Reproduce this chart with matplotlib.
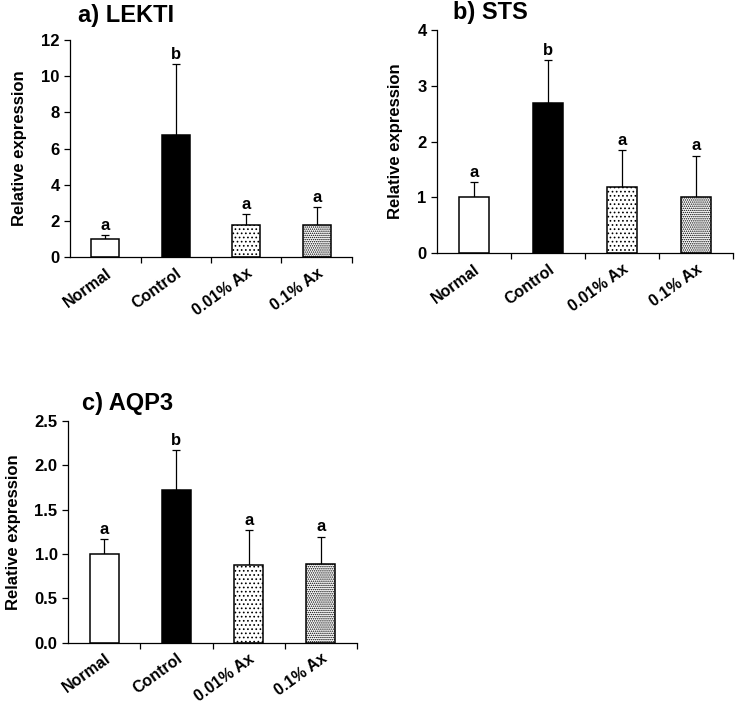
import matplotlib
matplotlib.use("Agg")
import matplotlib.pyplot as plt
import numpy as np

plt.rcParams['font.family'] = ['Liberation Sans', 'DejaVu Sans']
plt.rcParams['font.weight'] = 'bold'
plt.rcParams['hatch.linewidth'] = 0.7

categories = ["Normal", "Control", "0.01% Ax", "0.1% Ax"]
letters = ["a", "b", "a", "a"]

lekti_mean = [1.0, 6.76, 1.75, 1.75]
lekti_sd = [0.2, 3.93, 0.63, 1.0]
sts_mean = [1.0, 2.69, 1.19, 1.01]
sts_sd = [0.28, 0.78, 0.66, 0.74]
aqp3_mean = [1.0, 1.72, 0.876, 0.887]
aqp3_sd = [0.17, 0.45, 0.39, 0.31]

panels = [
    ("a) LEKTI", lekti_mean, lekti_sd, [0, 12], [0, 2, 4, 6, 8, 10, 12], "{:.0f}",
     [0.095, 0.635, 0.3826, 0.308], (0.106, 0.978)),
    ("b) STS", sts_mean, sts_sd, [0, 4], [0, 1, 2, 3, 4], "{:.0f}",
     [0.593, 0.6406, 0.4016, 0.3164], (0.614, 0.982)),
    ("c) AQP3", aqp3_mean, aqp3_sd, [0, 2.5], [0, 0.5, 1.0, 1.5, 2.0, 2.5], "{:.1f}",
     [0.0923, 0.0871, 0.3921, 0.3149], (0.111, 0.427)),
]

faces = ["white", "black", "white", "white"]
hatches = [None, None, "....", "........"]

fig = plt.figure(figsize=(7.37, 7.04), dpi=100)
for title, mean, sd, ylim, yticks, fmt, rect, tpos in panels:
    ax = fig.add_axes(rect)
    x = np.arange(len(categories))
    bars = ax.bar(x, mean, width=0.4, color=faces, edgecolor="black", linewidth=1.1, zorder=2)
    for b, h in zip(bars, hatches):
        if h:
            b.set_hatch(h)
    ax.errorbar(x, mean, yerr=[np.zeros(len(mean)), sd], fmt="none", ecolor="black",
                elinewidth=0.9, capsize=2.7, capthick=0.9, zorder=1)
    rng = ylim[1] - ylim[0]
    for xi, m, s, l in zip(x, mean, sd, letters):
        ax.text(xi, m + s + rng * 0.01, l, ha="center", va="bottom", fontsize=12, fontweight="bold")
    ax.set_xlim(-0.5, 3.5)
    ax.set_ylim(*ylim)
    ax.set_yticks(yticks)
    ax.set_yticklabels([fmt.format(v) for v in yticks], fontsize=12, fontweight="bold")
    ax.set_xticks([0.5, 1.5, 2.5, 3.5])
    ax.set_xticklabels([])
    ax.set_xticks(x, minor=True)
    ax.set_xticklabels(categories, minor=True, rotation=36, ha="right", rotation_mode="anchor",
                       fontsize=11.5, fontweight="bold")
    ax.tick_params(axis="x", which="minor", length=0, pad=6)
    ax.tick_params(axis="x", which="major", direction="out", length=4, width=0.9)
    ax.tick_params(axis="y", direction="out", length=4, width=0.9)
    for sp in ["top", "right"]:
        ax.spines[sp].set_visible(False)
    for sp in ["left", "bottom"]:
        ax.spines[sp].set_linewidth(0.9)
    ax.set_ylabel("Relative expression", fontsize=12, fontweight="bold", labelpad=10)
    fig.text(tpos[0], tpos[1], title, fontsize=17, fontweight="bold", ha="left", va="center")

fig.savefig("out.png", dpi=100)
